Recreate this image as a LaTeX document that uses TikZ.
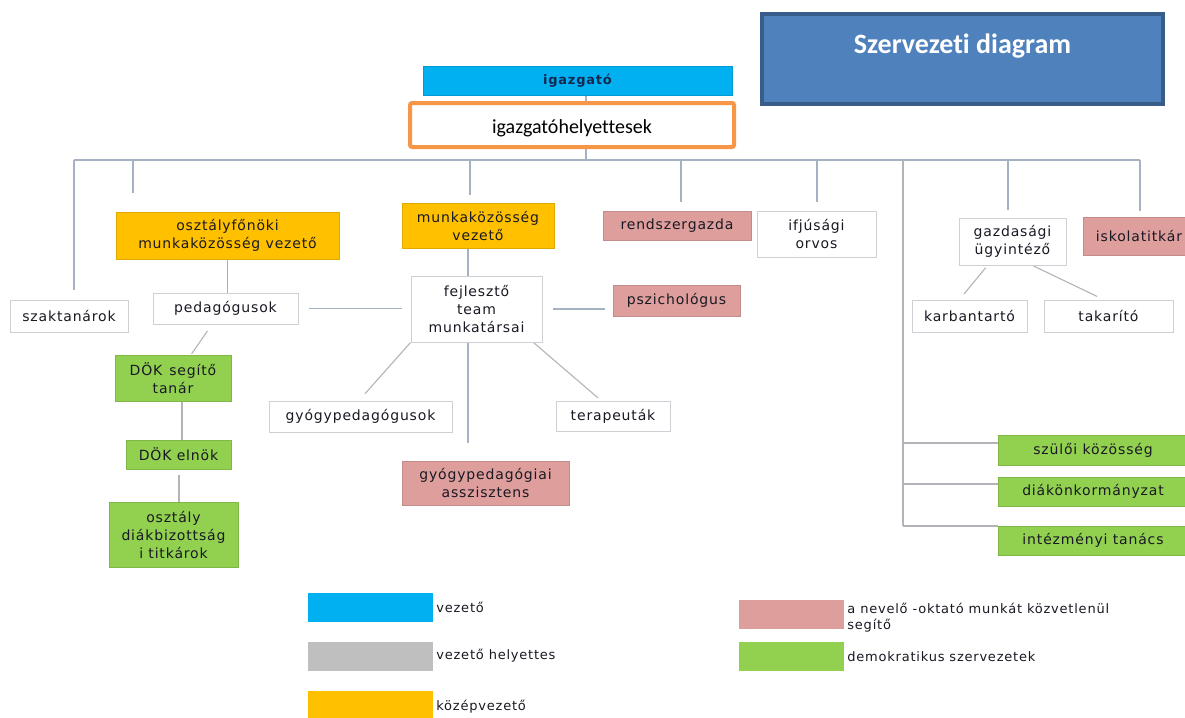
\documentclass[tikz,border=0pt]{standalone}
\usepackage{fontspec}
\newfontfamily\lbl{DejaVu Sans}[LetterSpace=6]
\newfontfamily\calib{Carlito}[Ligatures={NoCommon,NoRare}]
\usetikzlibrary{backgrounds,positioning}
\definecolor{cyanbox}{RGB}{0,176,240}
\definecolor{yellowbox}{RGB}{255,192,0}
\definecolor{pinkbox}{RGB}{222,158,156}
\definecolor{greenbox}{RGB}{146,208,80}
\definecolor{graybox}{RGB}{191,191,191}
\definecolor{titleblue}{RGB}{79,129,189}
\definecolor{titleedge}{RGB}{56,93,138}
\definecolor{helyorange}{RGB}{247,150,70}
\definecolor{linegray}{RGB}{165,178,196}
\definecolor{diaggray}{RGB}{178,180,186}
\definecolor{edgegray}{RGB}{205,208,212}
\definecolor{txt}{RGB}{25,25,35}
\tikzset{
	sz/.style 2 args={minimum width=#1pt, minimum height=#2pt},
	box/.style={rectangle, inner sep=0pt, align=center, text=txt},
	wbox/.style={box, draw=edgegray, line width=1pt, fill=white},
	ybox/.style={box, fill=yellowbox, draw=yellowbox!88!black, line width=.6pt},
	pbox/.style={box, fill=pinkbox, draw=pinkbox!88!black, line width=.6pt},
	gbox/.style={box, fill=greenbox, draw=greenbox!88!black, line width=.6pt},
	conn/.style={draw=linegray, line width=1.4pt},
	diag/.style={draw=diaggray, line width=1.1pt},
	swatch/.style={rectangle, inner sep=0pt, sz={125}{29}},
	lgtext/.style={font=\lbl\fontsize{13}{16}\selectfont, text=txt, align=left, inner sep=0pt}
}
\begin{document}
\begin{tikzpicture}[x=1pt, y=-1pt, font=\lbl\fontsize{14}{18}\selectfont]
	\begin{pgfonlayer}{background}
		\fill[white] (0,0) rectangle (1185,717);
	\end{pgfonlayer}
	\useasboundingbox (0,0) rectangle (1185,717);

	% title and management
	\node[rectangle, fill=titleblue, draw=titleedge, line width=3.5pt, sz={401}{90}] (title) at (962.5,59) {};
	\node[font=\calib\bfseries\fontsize{28}{30}\selectfont, text=white, anchor=base] (titletext) at (962.5,53) {Szervezeti diagram};
	\node[box, fill=cyanbox, draw=cyanbox!88!black, line width=.6pt, sz={309}{29}, text={rgb,255:red,20;green,40;blue,80}, font=\lbl\bfseries\fontsize{13}{16}\selectfont] (ig) at (577.5,80.5) {igazgató};
	\node[rectangle, draw=helyorange, line width=4pt, rounded corners=2pt, fill=white, sz={324}{44}] (hely) at (572,125) {};
	\begin{scope}
		\clip (410,103) rectangle (734,136);
		\node[font=\calib\fontsize{20}{24}\selectfont, anchor=base, inner sep=0pt] (helytext) at (572,133) {igazgatóhelyettesek};
	\end{scope}

	% units
	\node[wbox, sz={118}{32}] (szak) at (69,316) {szaktanárok};
	\node[ybox, sz={223}{47}] (ofo) at (227.5,235.5) {osztályfőnöki\\munkaközösség vezető};
	\node[ybox, sz={152}{45}] (munk) at (478,225.5) {munkaközösség\\vezető};
	\node[pbox, sz={148}{29}] (rendsz) at (677,225.5) {rendszergazda};
	\node[wbox, sz={119}{46}] (orvos) at (816.5,234) {ifjúsági\\orvos};
	\node[wbox, sz={107}{47}] (gazd) at (1012.5,241.5) {gazdasági\\ügyintéző};
	\node[pbox, sz={112}{38}] (titkar) at (1139,236) {iskolatitkár};
	\node[wbox, sz={145}{31}] (ped) at (225.5,308.5) {pedagógusok};
	\node[wbox, sz={131}{66}] (fejl) at (476.5,309) {fejlesztő\\team\\munkatársai};
	\node[pbox, sz={127}{31}] (pszich) at (676.5,300.5) {pszichológus};
	\node[wbox, sz={115}{32}] (karb) at (969.5,316) {karbantartó};
	\node[wbox, sz={129}{32}] (takar) at (1108.5,316) {takarító};
	\node[gbox, sz={116}{46}] (doks) at (173,378) {DÖK\enspace segítő\\tanár};
	\node[wbox, sz={183}{31}] (gyped) at (360.5,416.5) {gyógypedagógusok};
	\node[wbox, sz={114}{30}] (terap) at (613,416) {terapeuták};
	\node[gbox, sz={105}{29}] (doke) at (178.5,454.5) {DÖK elnök};
	\node[pbox, sz={167}{44}] (assz) at (485.5,483) {gyógypedagógiai\\asszisztens};
	\node[gbox, sz={129}{65}] (obiz) at (173.5,534.5) {osztály\\diákbizottság\\i titkárok};
	\node[gbox, sz={190}{30}] (szulo) at (1093,450) {szülői közösség};
	\node[gbox, sz={190}{29}] (donk) at (1093,491.5) {diákönkormányzat};
	\node[gbox, sz={190}{29}] (intez) at (1093,540.5) {intézményi tanács};

	% legend
	\node[swatch, fill=cyanbox] (lgvez) at (370.5,607.5) {};
	\node[lgtext, right=3pt of lgvez] (lgveztext) {vezető};
	\node[swatch, fill=graybox] (lghely) at (370.5,656) {};
	\node[lgtext, right=3pt of lghely] (lghelytext) {vezető helyettes};
	\node[swatch, fill=yellowbox] (lgkoz) at (370.5,705) {};
	\node[lgtext, right=3pt of lgkoz, yshift=-2pt] (lgkoztext) {középvezető};
	\node[swatch, minimum width=105pt, fill=pinkbox] (lgsegit) at (791.5,614.5) {};
	\node[lgtext, right=3pt of lgsegit, yshift=-3.5pt] (lgsegittext) {a nevelő -oktató munkát közvetlenül\\segítő};
	\node[swatch, minimum width=105pt, fill=greenbox] (lgdemo) at (791.5,656.5) {};
	\node[lgtext, right=3pt of lgdemo] (lgdemotext) {demokratikus szervezetek};

	% connectors
	\begin{pgfonlayer}{background}
		\coordinate (d1) at (74,160);
		\coordinate (d2) at (133,160);
		\coordinate (d3) at (470,160);
		\coordinate (dh) at (586,160);
		\coordinate (d4) at (681,160);
		\coordinate (d5) at (817,160);
		\coordinate (d6) at (903,160);
		\coordinate (d7) at (1008,160);
		\coordinate (d8) at (1140,160);
		\coordinate (k1) at (903,443);
		\coordinate (k2) at (903,484);
		\coordinate (k3) at (903,526);
		\draw[conn] (d1) -- (d8);
		\draw[conn] (dh |- ig.south) -- (dh);
		\foreach \d/\n/\g in {d1/szak/10, d2/ofo/19, d3/munk/8, d4/rendsz/9, d5/orvos/9, d7/gazd/8, d8/titkar/6}
			\draw[conn, shorten >=\g pt] (\d) -- (\d |- \n.north);
		\draw[conn, draw=diaggray] (d6) -- (k3);
		\draw[conn, draw=diaggray] (k1) -- (k1 -| szulo.west);
		\draw[conn, draw=diaggray] (k2) -- (k2 -| donk.west);
		\draw[conn, draw=diaggray] (k3) -- (k3 -| intez.west);
		\draw[conn] (ofo.south) -- (ofo.south |- ped.north);
		\draw[conn, shorten <=10pt, shorten >=9pt] (ped.east) -- (ped.east -| fejl.west);
		\draw[conn, shorten <=10pt, shorten >=8pt] (fejl.east) -- (fejl.east -| pszich.west);
		\draw[conn] ([xshift=-10pt]munk.south) -- ([xshift=-10pt]munk.south |- fejl.north);
		\draw[conn, shorten >=18pt] ([xshift=-8.5pt]fejl.south) -- ([xshift=-8.5pt]fejl.south |- assz.north);
		\draw[diag, shorten >=9pt] (fejl.south west) -- ([xshift=-1.5pt]gyped.north);
		\draw[diag, shorten >=4pt] ([xshift=-9pt]fejl.south east) -- ([xshift=-12pt]terap.north);
		\draw[diag, shorten <=8pt, shorten >=1pt] ([xshift=-13.5pt]ped.south) -- ([xshift=18pt]doks.north);
		\draw[diag] ([xshift=9pt]doks.south) -- ([xshift=9pt]doks.south |- doke.north);
		\draw[diag, line width=2pt, shorten <=6pt] (doke.south) -- (doke.south |- obiz.north);
		\draw[diag, shorten <=3pt, shorten >=7pt] ([xshift=-25pt]gazd.south) -- ([xshift=-10pt]karb.north);
		\draw[diag, shorten <=1pt, shorten >=7pt] ([xshift=20pt]gazd.south) -- ([xshift=-5pt]takar.north);
	\end{pgfonlayer}
\end{tikzpicture}
\end{document}
